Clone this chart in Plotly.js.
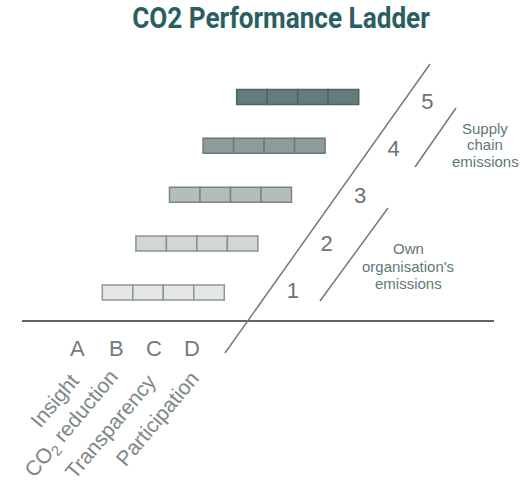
<!DOCTYPE html>
<html>
<head>
<meta charset="utf-8">
<script src="https://cdn.plot.ly/plotly-3.0.1.min.js"></script>
<style>html,body{margin:0;padding:0;background:#fff;}#chart{width:528px;height:486px;}</style>
</head>
<body>
<div id="chart"></div>
<script>
// ---- data ----
const levels = [1, 2, 3, 4, 5];
const levelLabels = ['1', '2', '3', '4', '5'];
const steps = ['A', 'B', 'C', 'D'];
const stepNames = ['Insight', 'CO<sub>2</sub> reduction', 'Transparency', 'Participation'];
const scopeGroups = [
  ['Own', "organisation's", 'emissions'],
  ['Supply', 'chain', 'emissions']
];
const titleText = 'CO2 Performance Ladder';

// ---- style / layout constants ----
const W = 528, H = 486;
const fills   = ['#e5e7e7', '#d2d6d6', '#b4bcbc', '#8c9c9b', '#627d7b'];
const borders = ['#8d9696', '#889292', '#7a8686', '#687878', '#4e6463'];
const levelShift = 1.1016;        // horizontal shift of each rung, in cell units
const numberOffset = 6.25;        // x offset of rung number from rung start
const px = x => x / W;
const py = y => 1 - y / H;

const traces = steps.map((s, i) => ({
  type: 'bar',
  orientation: 'h',
  y: levels,
  x: levels.map(() => 1),
  base: levels.map(L => i + levelShift * (L - 1)),
  width: 0.307,
  marker: { color: fills, line: { color: borders, width: 1.5 } },
  hoverinfo: 'skip',
  showlegend: false
}));

traces.push({
  type: 'scatter',
  mode: 'text',
  x: levels.map(L => numberOffset + levelShift * (L - 1)),
  y: levels.map(L => 1 + 0.968 * (L - 1)),
  text: levelLabels,
  textposition: 'middle center',
  textfont: { family: 'Liberation Sans, Arial, sans-serif', size: 22, color: '#6a7474' },
  hoverinfo: 'skip',
  showlegend: false
});

const annotations = [];
const letterX = [77, 116, 154, 192];
steps.forEach((s, i) => {
  annotations.push({
    xref: 'paper', yref: 'paper', x: px(letterX[i]), y: py(348),
    text: s, showarrow: false, xanchor: 'center', yanchor: 'middle',
    font: { family: 'Liberation Sans, Arial, sans-serif', size: 22, color: '#727c7c' }
  });
});
const nameCenters = [[54, 400], [72, 424], [110, 426], [157, 418]];
stepNames.forEach((n, i) => {
  annotations.push({
    xref: 'paper', yref: 'paper', x: px(nameCenters[i][0]), y: py(nameCenters[i][1]),
    text: n, showarrow: false, xanchor: 'center', yanchor: 'middle', textangle: -50,
    font: { family: 'Liberation Sans, Arial, sans-serif', size: 21, color: '#7e8787' }
  });
});
const groupPos = [[408, [248, 266, 283]], [485, [128, 145, 162]]];
scopeGroups.forEach((g, gi) => {
  g.forEach((line, li) => {
    annotations.push({
      xref: 'paper', yref: 'paper', x: px(groupPos[gi][0]), y: py(groupPos[gi][1][li]),
      text: line, showarrow: false, xanchor: 'center', yanchor: 'middle',
      font: { family: 'Liberation Sans, Arial, sans-serif', size: 15, color: '#5f7878' }
    });
  });
});

const lineSeg = (x0, y0, x1, y1, w, c) => ({
  type: 'line', xref: 'paper', yref: 'paper',
  x0: px(x0), y0: py(y0), x1: px(x1), y1: py(y1),
  line: { color: c, width: w }
});
const shapes = [
  lineSeg(22, 321, 494, 321, 2, '#5c6666'),
  lineSeg(225, 353, 430, 64, 1.5, '#737b7b'),
  lineSeg(320, 301, 388, 208, 1.5, '#737b7b'),
  lineSeg(415, 167, 456, 108, 1.5, '#737b7b')
];

const layout = {
  width: W, height: H,
  margin: { l: 0, r: 0, t: 0, b: 0 },
  paper_bgcolor: '#ffffff', plot_bgcolor: '#ffffff',
  title: {
    text: titleText, x: px(281), y: py(18), xanchor: 'center', yanchor: 'middle',
    font: { family: 'Roboto, Liberation Sans, sans-serif', size: 29, weight: 'bold', color: '#2b5e60' }
  },
  xaxis: { range: [-3.354, 13.957], visible: false, fixedrange: true },
  yaxis: { range: [-2.957, 6.982], visible: false, fixedrange: true },
  bargap: 0,
  barmode: 'overlay',
  shapes: shapes,
  annotations: annotations
};

Plotly.newPlot('chart', traces, layout, { displayModeBar: false, staticPlot: true }).then(gd => {
  // condense the title to the narrow face used in the reference
  const t = gd.querySelector('.gtitle');
  if (t) {
    const bb = t.getBBox();
    const target = 298;
    if (bb.width > 0) {
      const s = target / bb.width;
      const cx = bb.x + bb.width / 2;
      t.setAttribute('transform', 'translate(' + cx + ',0) scale(' + s + ',1) translate(' + (-cx) + ',0)');
    }
  }
});
</script>
</body>
</html>
